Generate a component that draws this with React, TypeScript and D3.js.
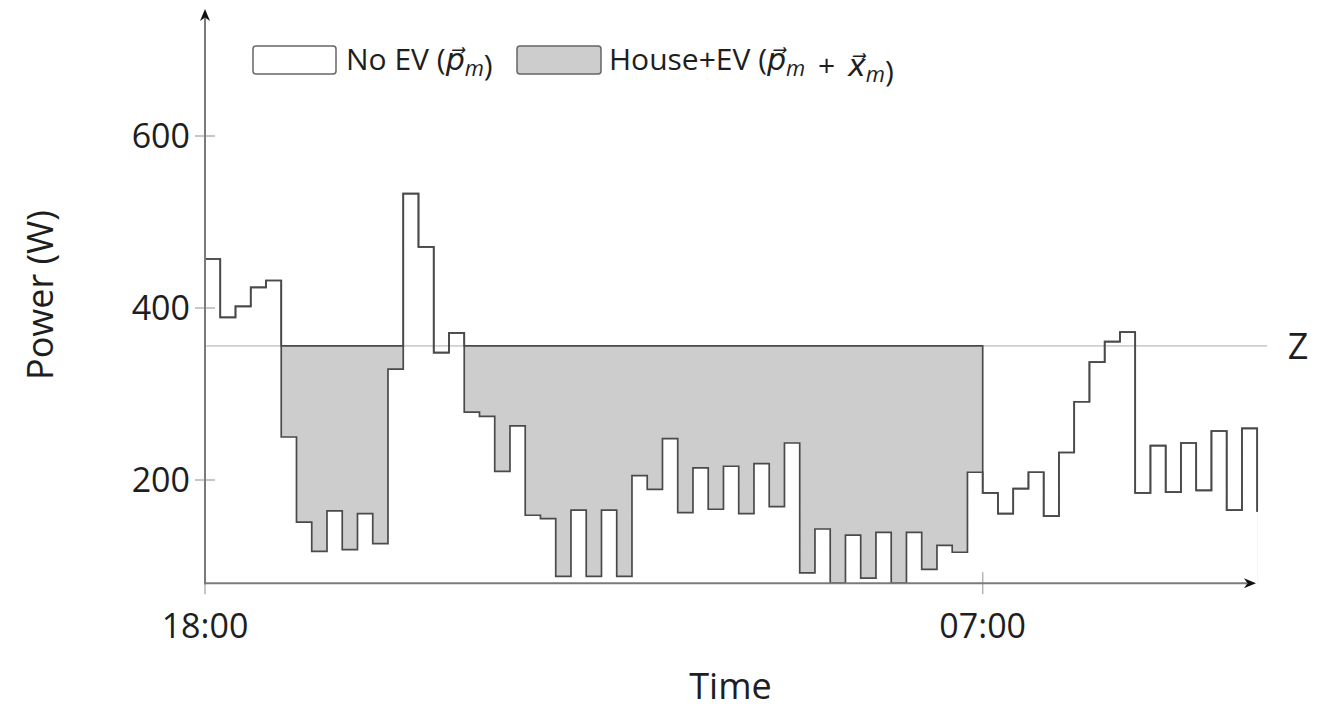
import { useRef, useEffect } from "react";
import * as d3 from "d3";

const WIDTH = 1318;
const HEIGHT = 709;

// household power per slot (W), first slot starts 18:00; last entry is the closing point
const houseLoad = [
  457, 389, 402, 424, 432, 250, 151, 117, 164, 119,
  161, 126, 329, 533, 471, 348, 371, 279, 274, 210,
  263, 159, 155, 88, 165, 88, 165, 88, 205, 189,
  248, 162, 214, 166, 216, 161, 219, 169, 243, 92,
  143, 80, 136, 86, 139, 80, 139, 96, 124, 116,
  209, 185, 161, 190, 209, 158, 232, 291, 337, 361,
  372, 185, 240, 186, 243, 188, 257, 165, 260, 163,
];

// slots (inclusive) where the EV charges up to the limit Z
const chargingWindows: [number, number][] = [
  [5, 12],
  [17, 50],
];

const zLimit = 356;

const xTickSlots = [0, 51];
const xTickLabels = ["18:00", "07:00"];
const yTickValues = [200, 400, 600];

const theme = {
  font: "'Open Sans', 'DejaVu Sans', sans-serif",
  text: "#1e1e1e",
  axis: "#7a7a7a",
  tick: "#b5b5b5",
  line: "#4a4a4a",
  fill: "#cdcdcd",
  zLine: "#cfcfcf",
};

export default function App() {
  const svgRef = useRef<SVGSVGElement>(null);

  useEffect(() => {
    if (!svgRef.current) return;
    const svg = d3.select(svgRef.current);
    svg.selectAll("*").remove();

    const x = d3.scaleLinear().domain([0, 51]).range([205, 982.7]);
    const y = d3.scaleLinear().domain([80, 600]).range([583.2, 136]);

    const houseEv = houseLoad.map((v, i) =>
      chargingWindows.some(([a, b]) => i >= a && i <= b) ? zLimit : v,
    );
    const pts = (vals: number[]) => vals.map((v, i) => [i, v] as [number, number]);

    const defs = svg.append("defs");
    defs
      .append("marker")
      .attr("id", "arrow")
      .attr("viewBox", "0 0 12 10")
      .attr("refX", 3)
      .attr("refY", 5)
      .attr("markerWidth", 12)
      .attr("markerHeight", 10)
      .attr("markerUnits", "userSpaceOnUse")
      .attr("orient", "auto")
      .append("path")
      .attr("d", "M0,0 L12,5 L0,10 L3.5,5 Z")
      .attr("fill", "#111");

    const xMin = x(0);
    const yBase = y(80);

    // Areas: house+EV in gray, house on top in white
    const area = d3
      .area<[number, number]>()
      .x((d) => x(d[0]))
      .y0(yBase)
      .y1((d) => y(d[1]))
      .curve(d3.curveStepAfter);

    svg.append("path").datum(pts(houseEv)).attr("fill", theme.fill).attr("d", area);
    svg.append("path").datum(pts(houseLoad)).attr("fill", "#fff").attr("d", area);

    // Z limit line
    svg
      .append("line")
      .attr("x1", xMin)
      .attr("x2", 1267)
      .attr("y1", y(zLimit))
      .attr("y2", y(zLimit))
      .attr("stroke", theme.zLine)
      .attr("stroke-width", 1.6);

    svg
      .append("text")
      .attr("x", 1298)
      .attr("y", y(zLimit) + 13)
      .attr("text-anchor", "middle")
      .attr("font-family", theme.font)
      .attr("font-size", 36)
      .attr("fill", theme.text)
      .text("Z");

    // Step lines
    const line = d3
      .line<[number, number]>()
      .x((d) => x(d[0]))
      .y((d) => y(d[1]))
      .curve(d3.curveStepAfter);

    [houseEv, houseLoad].forEach((vals) => {
      svg
        .append("path")
        .datum(pts(vals))
        .attr("fill", "none")
        .attr("stroke", theme.line)
        .attr("stroke-width", 1.7)
        .attr("d", line);
    });

    // Ticks
    svg
      .append("g")
      .selectAll("line")
      .data(yTickValues)
      .join("line")
      .attr("x1", xMin - 10)
      .attr("x2", xMin + 10)
      .attr("y1", (d) => y(d))
      .attr("y2", (d) => y(d))
      .attr("stroke", theme.tick)
      .attr("stroke-width", 1.5);

    svg
      .append("g")
      .selectAll("line")
      .data(xTickSlots)
      .join("line")
      .attr("x1", (d) => x(d))
      .attr("x2", (d) => x(d))
      .attr("y1", yBase - 11)
      .attr("y2", yBase + 11)
      .attr("stroke", theme.tick)
      .attr("stroke-width", 1.5);

    // Axes with arrows
    svg
      .append("line")
      .attr("x1", xMin)
      .attr("x2", xMin)
      .attr("y1", yBase + 1)
      .attr("y2", 18)
      .attr("stroke", theme.axis)
      .attr("stroke-width", 2)
      .attr("marker-end", "url(#arrow)");

    svg
      .append("line")
      .attr("x1", xMin - 1)
      .attr("x2", 1247)
      .attr("y1", yBase)
      .attr("y2", yBase)
      .attr("stroke", theme.axis)
      .attr("stroke-width", 2)
      .attr("marker-end", "url(#arrow)");

    // Tick labels
    svg
      .append("g")
      .selectAll("text")
      .data(yTickValues)
      .join("text")
      .attr("x", 190)
      .attr("y", (d) => y(d) + 12)
      .attr("text-anchor", "end")
      .attr("font-family", theme.font)
      .attr("font-size", 34)
      .attr("fill", theme.text)
      .text((d) => d);

    svg
      .append("g")
      .selectAll("text")
      .data(xTickSlots)
      .join("text")
      .attr("x", (d) => x(d))
      .attr("y", 638)
      .attr("text-anchor", "middle")
      .attr("font-family", theme.font)
      .attr("font-size", 34)
      .attr("fill", theme.text)
      .text((_, i) => xTickLabels[i]);

    // Axis titles
    svg
      .append("text")
      .attr("x", (xMin + 1256) / 2)
      .attr("y", 699)
      .attr("text-anchor", "middle")
      .attr("font-family", theme.font)
      .attr("font-size", 36)
      .attr("fill", theme.text)
      .text("Time");

    svg
      .append("text")
      .attr("transform", "translate(53,295) rotate(-90)")
      .attr("text-anchor", "middle")
      .attr("font-family", theme.font)
      .attr("font-size", 36)
      .attr("fill", theme.text)
      .text("Power (W)");

    // Legend
    const legend = svg
      .append("g")
      .attr("font-family", theme.font)
      .attr("font-size", 30)
      .attr("fill", theme.text);
    legend
      .append("rect")
      .attr("x", 253)
      .attr("y", 46)
      .attr("width", 83)
      .attr("height", 28)
      .attr("rx", 3)
      .attr("fill", "#fff")
      .attr("stroke", "#666")
      .attr("stroke-width", 1.5);
    legend
      .append("rect")
      .attr("x", 517)
      .attr("y", 46)
      .attr("width", 84)
      .attr("height", 28)
      .attr("rx", 3)
      .attr("fill", theme.fill)
      .attr("stroke", "#666")
      .attr("stroke-width", 1.5);

    const vec = (t: d3.Selection<SVGTextElement, unknown, null, undefined>, base: string) => {
      t.append("tspan").attr("font-style", "italic").text(`${base}\u20D7`);
      t.append("tspan").attr("font-style", "italic").attr("font-size", 22).attr("dy", 6).text("m");
      t.append("tspan").attr("dy", -6).text("");
    };

    const t1 = legend.append("text").attr("x", 346).attr("y", 70);
    t1.append("tspan").text("No EV (");
    vec(t1, "p");
    t1.append("tspan").text(")");

    const t2 = legend.append("text").attr("x", 609).attr("y", 70);
    t2.append("tspan").text("House+EV (");
    vec(t2, "p");
    t2.append("tspan").text(" \u2009+\u2009 ");
    vec(t2, "x");
    t2.append("tspan").text(")");
  }, []);

  return (
    <div style={{ position: "absolute", left: 0, top: 0, width: WIDTH, height: HEIGHT, background: "#fff" }}>
      <svg ref={svgRef} width={WIDTH} height={HEIGHT} />
    </div>
  );
}
